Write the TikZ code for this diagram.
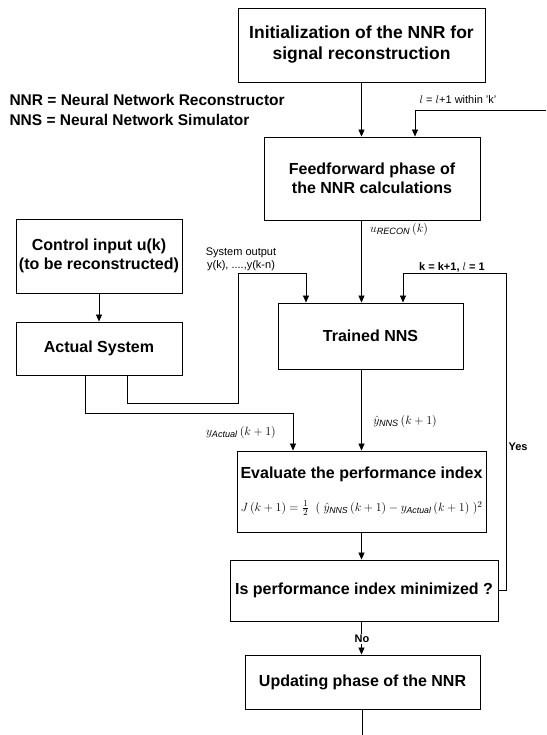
\documentclass[tikz,border=0pt]{standalone}
\usepackage{fontspec}
\setmainfont{Liberation Sans}
\usetikzlibrary{arrows.meta}

\tikzset{
	box/.style={draw, line width=0.9pt, align=center, inner sep=0pt,
		font=\bfseries\fontsize{16}{19.5}\selectfont},
	flow/.style={line width=0.7pt},
	small/.style={font=\fontsize{11}{13}\selectfont, align=center},
	mlabel/.style={font=\fontsize{13}{15}\selectfont},
	>={Triangle[length=7pt, width=6pt]}
}

\begin{document}
\begin{tikzpicture}[x=1pt, y=-1pt]
	\useasboundingbox (0,0) rectangle (546,735);

%boxes
	\node[box, minimum width=247, minimum height=74, font=\bfseries\fontsize{17.5}{21}\selectfont] (init) at (361.5,45) {Initialization of the NNR for\\signal reconstruction};
	\node[box, minimum width=216, minimum height=83] (ff) at (372,178.5) {Feedforward phase of\\the NNR calculations};
	\node[box, minimum width=166, minimum height=74] (ctrl) at (99,256) {Control input u(k)\\(to be reconstructed)};
	\node[box, minimum width=166, minimum height=53] (actual) at (99,348.5) {Actual System};
	\node[box, minimum width=185, minimum height=66] (nns) at (370.5,336) {Trained NNS};
	\node[box, minimum width=249, minimum height=81] (eval) at (361.5,491.5) {Evaluate the performance index\\[13pt]
		{\normalfont\fontsize{12.5}{14}\selectfont $J\,(k+1) = {\textstyle\frac{1}{2}}\;\;(\;\hat{y}_{\mathit{NNS}}\,(k+1) - y_{\mathit{Actual}}\,(k+1)\;)^{2}$}};
	\node[box, minimum width=268, minimum height=61] (ismin) at (364,590.5) {Is performance index minimized ?};
	\node[box, minimum width=235, minimum height=54] (upd) at (362.5,682) {Updating phase of the NNR};

%legend
	\foreach \y/\name in {100/{NNR = Neural Network Reconstructor}, 120/{NNS = Neural Network Simulator}}{
		\node[anchor=west, font=\bfseries\fontsize{15.5}{18}\selectfont] at (6,\y) {\name};
	}

%loose ends
	\coordinate (lin) at (546,110);
	\coordinate (sysout) at (238,273);
	\coordinate (kloop) at (506,273);
	\coordinate (out) at (362.5,735);

%main column
	\draw[flow, ->] (init.south) -- (init.south |- ff.north);
	\draw[flow, ->] (init.south |- ff.south) -- (init.south |- nns.north);
	\draw[flow, ->] (init.south |- nns.south) -- (init.south |- eval.north);
	\draw[flow, ->] (init.south |- eval.south) -- (init.south |- ismin.north);
	\draw[flow, ->] (init.south |- ismin.south) -- (init.south |- upd.north);
	\draw[flow] (upd.south) -- (out);
	\draw[flow, ->] (ctrl.south) -- (actual.north);

%system output lines
	\draw[flow, ->] ([xshift=-14]actual.south) -- ++(0,38) -| ([xshift=-68.5]eval.north);
	\draw[flow, ->] ([xshift=28]actual.south) -- ++(0,28) -| (sysout) -| ([xshift=-64.5]nns.north);

%loops
	\draw[flow, ->] (lin) -| ([xshift=43]ff.north);
	\draw[flow, ->] (ismin.east) -| (kloop) -| ([xshift=32.5]nns.north);

%labels
	\node[small] (lbl) at (458,100) {$l$ = $l$+1 within 'k'};
	\node[small, font=\bfseries\fontsize{11}{13}\selectfont] (kbl) at (452,267) {k = k+1, $l$ = 1};
	\node[small] (sys) at (241,259) {System output\\y(k), ....,y(k-n)};
	\node[mlabel] (urec) at (399,229) {$u_{\mathit{RECON}}\,(k)$};
	\node[mlabel] (yact) at (241,432) {$y_{\mathit{Actual}}\,(k+1)$};
	\node[mlabel] (ynns) at (405,421) {$\hat{y}_{\mathit{NNS}}\,(k+1)$};
	\node[small, font=\bfseries\fontsize{11}{13}\selectfont] (yes) at (518,447) {Yes};
	\node[small, fill=white, inner sep=1pt, font=\bfseries\fontsize{11}{13}\selectfont] (no) at (362,639) {No};

\end{tikzpicture}
\end{document}
